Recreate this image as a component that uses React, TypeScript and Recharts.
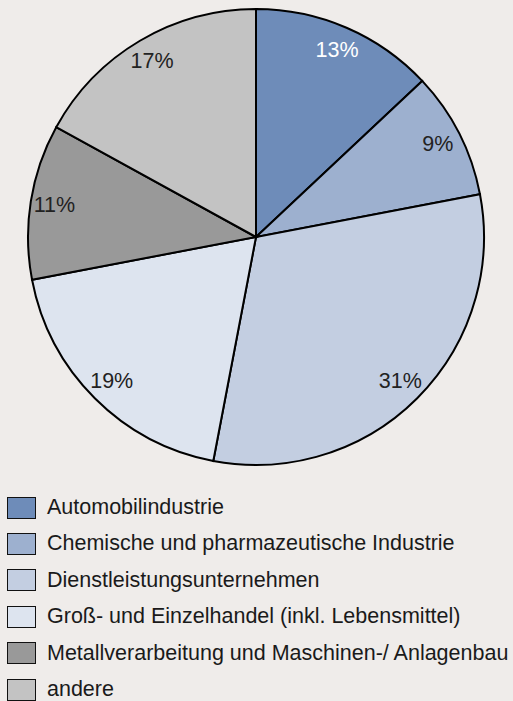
import * as React from "react";
import { PieChart, Pie, Cell, Legend } from "recharts";

const categories = [
  "Automobilindustrie",
  "Chemische und pharmazeutische Industrie",
  "Dienstleistungsunternehmen",
  "Groß- und Einzelhandel (inkl. Lebensmittel)",
  "Metallverarbeitung und Maschinen-/ Anlagenbau",
  "andere",
];
const shares = [13, 9, 31, 19, 11, 17];
const colors = ["#6e8cb9", "#9db0cf", "#c3cee1", "#dde4ef", "#999999", "#c3c3c3"];
const labelColors = ["#ffffff", "#222222", "#222222", "#222222", "#222222", "#222222"];

const data = categories.map((name, i) => ({ name, value: shares[i] }));

const FONT = '"Liberation Sans", Arial, Helvetica, sans-serif';
const RADIAN = Math.PI / 180;

const renderLabel = (props: any) => {
  const { cx, cy, midAngle, outerRadius, index, value } = props;
  const r = outerRadius * 0.895;
  const x = cx + r * Math.cos(-midAngle * RADIAN);
  const y = cy + r * Math.sin(-midAngle * RADIAN);
  return (
    <text
      x={x}
      y={y}
      fill={labelColors[index]}
      textAnchor="middle"
      dominantBaseline="central"
      fontSize={21.5}
      fontFamily={FONT}
    >
      {value}%
    </text>
  );
};

const renderLegend = () => (
  <div style={{ position: "relative", fontFamily: FONT, fontSize: 21.5, color: "#1a1a1a" }}>
    {categories.map((name, i) => (
      <div
        key={name}
        style={{ position: "absolute", left: 7, top: i * 36.4, height: 23, display: "flex", alignItems: "center" }}
      >
        <span
          style={{
            display: "inline-block",
            width: 27,
            height: 20,
            background: colors[i],
            border: "1.5px solid #111",
            marginRight: 11,
          }}
        />
        <span style={{ whiteSpace: "nowrap", lineHeight: "23px" }}>{name}</span>
      </div>
    ))}
  </div>
);

export default function App() {
  return (
    <div style={{ position: "absolute", left: 0, top: 0, width: 513, height: 701, background: "#efecea" }}>
      <PieChart width={513} height={701} margin={{ top: 0, right: 0, bottom: 0, left: 0 }}>
        <Pie
          data={data}
          dataKey="value"
          nameKey="name"
          cx={256}
          cy={237}
          outerRadius={228}
          startAngle={90}
          endAngle={-270}
          stroke="#000000"
          strokeWidth={2}
          label={renderLabel}
          labelLine={false}
          isAnimationActive={false}
        >
          {data.map((d, i) => (
            <Cell key={d.name} fill={colors[i]} />
          ))}
        </Pie>
        <Legend
          content={renderLegend}
          wrapperStyle={{ position: "absolute", left: 0, top: 496, width: 513, height: 200 }}
        />
      </PieChart>
    </div>
  );
}
